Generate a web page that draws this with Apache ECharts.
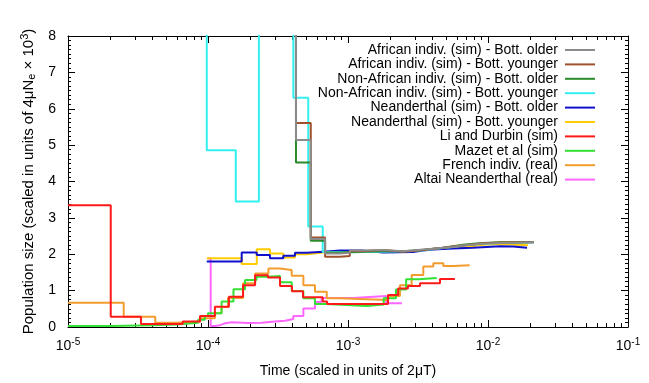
<!DOCTYPE html>
<html>
<head>
<meta charset="utf-8">
<script src="https://cdn.jsdelivr.net/npm/echarts@6/dist/echarts.min.js"></script>
<style>
  html, body { margin: 0; padding: 0; background: #fff; }
  #chart { width: 649px; height: 383px; }
</style>
</head>
<body>
<div id="chart"></div>
<script>
// series names, in legend order
const seriesNames = [
  'African indiv. (sim) - Bott. older',
  'African indiv. (sim) - Bott. younger',
  'Non-African indiv. (sim) - Bott. older',
  'Non-African indiv. (sim) - Bott. younger',
  'Neanderthal (sim) - Bott. older',
  'Neanderthal (sim) - Bott. younger',
  'Li and Durbin (sim)',
  'Mazet et al (sim)',
  'French indiv. (real)',
  'Altai Neanderthal (real)'
]
const seriesColors = ['#8c8c8c', '#a0522d', '#2a8a2a', '#33f0f0', '#1010cc', '#ffcc00', '#ff1a1a', '#33e033', '#f39c2e', '#ff66ff']

// x tick labels (decades) and minor ticks
const decadeTicks = [1e-5, 1e-4, 1e-3, 1e-2, 1e-1]
const minorTicks = [
  2e-5, 3e-5, 4e-5, 5e-5, 6e-5, 7e-5, 8e-5, 9e-5,
  2e-4, 3e-4, 4e-4, 5e-4, 6e-4, 7e-4, 8e-4, 9e-4,
  2e-3, 3e-3, 4e-3, 5e-3, 6e-3, 7e-3, 8e-3, 9e-3,
  2e-2, 3e-2, 4e-2, 5e-2, 6e-2, 7e-2, 8e-2, 9e-2
]

// simulated African / Non-African: early part (above plot), then shared tail times
const tailTimes = [6.86e-4, 8.77e-4, 1.03e-3, 1.26e-3, 1.78e-3, 2.47e-3, 2.91e-3, 3.43e-3, 4.05e-3, 4.77e-3, 5.62e-3, 6.63e-3, 7.81e-3, 9.2e-3, 1.22e-2, 2.13e-2]

const afrOldTimes = [3.0e-4, 4.25e-4, 5.42e-4]
const afrOldSizes = [14, 5.14, 2.42]
const afrOldTail = [2.02, 2.04, 2.1, 2.12, 2.08, 2.1, 2.13, 2.15, 2.18, 2.2, 2.24, 2.27, 2.29, 2.31, 2.33, 2.33]

const afrYoungTimes = [3.0e-4, 4.25e-4, 5.42e-4]
const afrYoungSizes = [14, 5.61, 2.46]
const afrYoungTail = [1.93, 1.95, 2.08, 2.12, 2.07, 2.09, 2.12, 2.15, 2.18, 2.21, 2.24, 2.27, 2.3, 2.32, 2.33, 2.33]

const nafOldTimes = [3.0e-4, 4.25e-4, 5.42e-4]
const nafOldSizes = [14, 4.52, 2.37]
const nafOldTail = [2.05, 2.06, 2.07, 2.08, 2.08, 2.1, 2.12, 2.15, 2.18, 2.22, 2.26, 2.29, 2.31, 2.33, 2.34, 2.34]

const nafYoungTimes = [9.0e-5, 9.8e-5, 1.58e-4, 2.31e-4, 4.07e-4, 5.2e-4]
const nafYoungSizes = [14, 4.86, 3.45, 14, 6.3, 2.76]
const nafYoungTail = [2.06, 2.05, 2.06, 2.07, 2.08, 2.09, 2.11, 2.14, 2.17, 2.2, 2.24, 2.27, 2.29, 2.31, 2.32, 2.32]

const neaOldTimes = [9.8e-5, 1.74e-4, 2.23e-4, 2.77e-4, 3.45e-4, 4.18e-4, 5.07e-4, 6.67e-4, 8.77e-4, 1.26e-3, 1.78e-3, 2.91e-3, 3.43e-3, 4.05e-3, 5.62e-3, 7.81e-3, 1.22e-2, 1.51e-2, 1.9e-2]
const neaOldSizes = [1.8, 2.05, 1.98, 1.89, 1.96, 2.04, 2.07, 2.1, 2.1, 2.05, 2.06, 2.1, 2.13, 2.16, 2.18, 2.22, 2.21, 2.18, 2.18]

const neaYoungTimes = [9.8e-5, 1.74e-4, 2.23e-4, 2.77e-4, 3.45e-4, 4.18e-4, 5.07e-4, 6.67e-4, 1.78e-3, 2.47e-3, 2.91e-3, 3.43e-3, 4.05e-3, 5.62e-3, 6.63e-3, 7.81e-3, 9.2e-3, 1.22e-2, 1.93e-2]
const neaYoungSizes = [1.89, 1.73, 2.14, 2.02, 1.91, 2.0, 2.05, 2.07, 2.07, 2.09, 2.12, 2.14, 2.18, 2.2, 2.23, 2.26, 2.28, 2.25, 2.25]

const liTimes = [1e-5, 2.02e-5, 3.32e-5, 6.6e-5, 8.77e-5, 1.12e-4, 1.41e-4, 1.78e-4, 2.17e-4, 2.68e-4, 3.27e-4, 3.98e-4, 4.77e-4, 6.6e-4, 7.1e-4, 1.93e-3, 2.28e-3, 2.68e-3, 3.27e-3, 4.54e-3, 5.8e-3]
const liSizes = [3.35, 0.28, 0.08, 0.15, 0.3, 0.56, 0.83, 1.15, 1.42, 1.36, 1.13, 0.98, 0.82, 0.7, 0.63, 0.88, 1.06, 1.13, 1.2, 1.32, 1.32]

const mazetTimes = [1e-5, 2e-5, 4e-5, 6e-5, 8.5e-5, 9.5e-5, 1e-4, 1.25e-4, 1.52e-4, 1.84e-4, 2.22e-4, 2.7e-4, 3.27e-4, 3.96e-4, 4.8e-4, 5.8e-4, 7.0e-4, 1.36e-3, 1.8e-3, 2.2e-3, 2.6e-3, 3.2e-3, 4.3e-3]
const mazetSizes = [0.03, 0.05, 0.07, 0.12, 0.2, 0.3, 0.38, 0.7, 1.04, 1.29, 1.38, 1.4, 1.23, 0.99, 0.79, 0.63, 0.58, 0.62, 0.79, 1.03, 1.31, 1.35, 1.35]

const frenchTimes = [1e-5, 2.5e-5, 4.2e-5, 6.0e-5, 8.8e-5, 1.12e-4, 1.25e-4, 1.39e-4, 1.78e-4, 2.17e-4, 2.7e-4, 3.27e-4, 3.96e-4, 4.8e-4, 5.81e-4, 7.05e-4, 8.53e-4, 1.94e-3, 2.35e-3, 2.85e-3, 3.45e-3, 4.07e-3, 4.8e-3, 5.65e-3, 7.4e-3]
const frenchSizes = [0.67, 0.28, 0.12, 0.15, 0.24, 0.38, 0.55, 0.8, 1.2, 1.47, 1.61, 1.57, 1.41, 1.15, 0.97, 0.79, 0.74, 0.85, 1.15, 1.43, 1.66, 1.75, 1.68, 1.7, 1.7]

const altaiTimes = [1.0e-4, 1.045e-4, 1.12e-4, 1.22e-4, 1.32e-4, 1.48e-4, 1.94e-4, 2.42e-4, 3.01e-4, 3.55e-4, 4.07e-4, 4.8e-4, 5.81e-4, 6.48e-4, 1.09e-3, 1.87e-3, 2.43e-3]
const altaiSizes = [1.88, 0.03, 0.05, 0.1, 0.13, 0.11, 0.12, 0.15, 0.17, 0.22, 0.3, 0.51, 0.69, 0.8, 0.85, 0.65, 0.65]

const pairs = (ts, vs) => ts.map((t, i) => [t, vs[i]])
const withTail = (ts, vs, tail, start) => {
  const tt = start ? [start].concat(tailTimes.slice(1)) : tailTimes
  return pairs(ts, vs).concat(pairs(tt, tail))
}

const seriesData = [
  withTail(afrOldTimes, afrOldSizes, afrOldTail),
  withTail(afrYoungTimes, afrYoungSizes, afrYoungTail),
  withTail(nafOldTimes, nafOldSizes, nafOldTail),
  withTail(nafYoungTimes, nafYoungSizes, nafYoungTail, 6.6e-4),
  pairs(neaOldTimes, neaOldSizes),
  pairs(neaYoungTimes, neaYoungSizes),
  pairs(liTimes, liSizes),
  pairs(mazetTimes, mazetSizes),
  pairs(frenchTimes, frenchSizes),
  pairs(altaiTimes, altaiSizes)
]

const font = 'Liberation Sans, Arial, sans-serif'
const chart = echarts.init(document.getElementById('chart'))

const logAxis = (pos, opts) => Object.assign({
  type: 'log',
  logBase: 10,
  min: 1e-5,
  max: 1e-1,
  position: pos,
  gridIndex: 0,
  splitLine: { show: false },
  axisLine: { show: true, lineStyle: { color: '#000', width: 1 } },
  axisTick: { show: true, inside: true, length: 7, lineStyle: { color: '#000' }, customValues: decadeTicks },
  axisLabel: { show: false }
}, opts)

chart.setOption({
  animation: false,
  textStyle: { fontFamily: font },
  grid: { left: 68, right: 21, top: 36, bottom: 56 },
  legend: {
    orient: 'vertical',
    right: 49,
    top: 38,
    align: 'right',
    icon: 'rect',
    itemWidth: 30,
    itemHeight: 2,
    itemGap: 0.4,
    textStyle: { fontSize: 14, color: '#000', fontFamily: font, lineHeight: 14, padding: [0, 2, 0, 0] },
    data: seriesNames
  },
  xAxis: [
    logAxis('bottom', {
      name: 'Time (scaled in units of 2μT)',
      nameLocation: 'middle',
      nameGap: 37,
      nameTextStyle: { fontSize: 14, color: '#000', fontFamily: font },
      axisLabel: {
        show: true,
        margin: 10,
        color: '#000',
        fontSize: 14,
        customValues: decadeTicks,
        formatter: v => '10{sup|' + Math.round(Math.log10(v)) + '}',
        rich: { sup: { fontSize: 10, verticalAlign: 'top', padding: [0, 0, 8, 0], color: '#000' } }
      }
    }),
    logAxis('bottom', { axisLine: { show: false }, axisTick: { show: true, inside: true, length: 4, lineStyle: { color: '#000' }, customValues: minorTicks } }),
    logAxis('top', {}),
    logAxis('top', { axisLine: { show: false }, axisTick: { show: true, inside: true, length: 4, lineStyle: { color: '#000' }, customValues: minorTicks } })
  ],
  yAxis: [
    {
      type: 'value',
      min: 0,
      max: 8,
      interval: 1,
      position: 'left',
      name: '{n|Population size (scaled in units of 4μN}{sub|e}{n| × 10}{sup|3}{n|)}',
      nameLocation: 'middle',
      nameGap: 30,
      nameRotate: 90,
      nameTextStyle: {
        rich: {
          n: { fontSize: 15, color: '#000', fontFamily: font },
          sub: { fontSize: 11, color: '#000', fontFamily: font, padding: [6, 0, 0, 0] },
          sup: { fontSize: 11, color: '#000', fontFamily: font, padding: [0, 0, 8, 0] }
        }
      },
      splitLine: { show: false },
      axisLine: { show: true, lineStyle: { color: '#000', width: 1 } },
      axisTick: { show: true, inside: true, length: 7, lineStyle: { color: '#000' } },
      minorTick: { show: true, splitNumber: 8, length: 3, lineStyle: { color: '#000' } },
      axisLabel: { color: '#000', fontSize: 14, margin: 12 }
    },
    {
      type: 'value',
      min: 0,
      max: 8,
      interval: 1,
      position: 'right',
      splitLine: { show: false },
      axisLine: { show: true, lineStyle: { color: '#000', width: 1 } },
      axisTick: { show: true, inside: true, length: 7, lineStyle: { color: '#000' } },
      minorTick: { show: true, splitNumber: 8, length: 3, lineStyle: { color: '#000' } },
      axisLabel: { show: false }
    }
  ],
  series: seriesNames.map((name, i) => ({
    name: name,
    type: 'line',
    step: 'end',
    xAxisIndex: 0,
    yAxisIndex: 0,
    showSymbol: false,
    symbol: 'none',
    clip: true,
    color: seriesColors[i],
    lineStyle: { width: 2, color: seriesColors[i] },
    z: 10 - i,
    data: seriesData[i]
  }))
})
</script>
</body>
</html>
